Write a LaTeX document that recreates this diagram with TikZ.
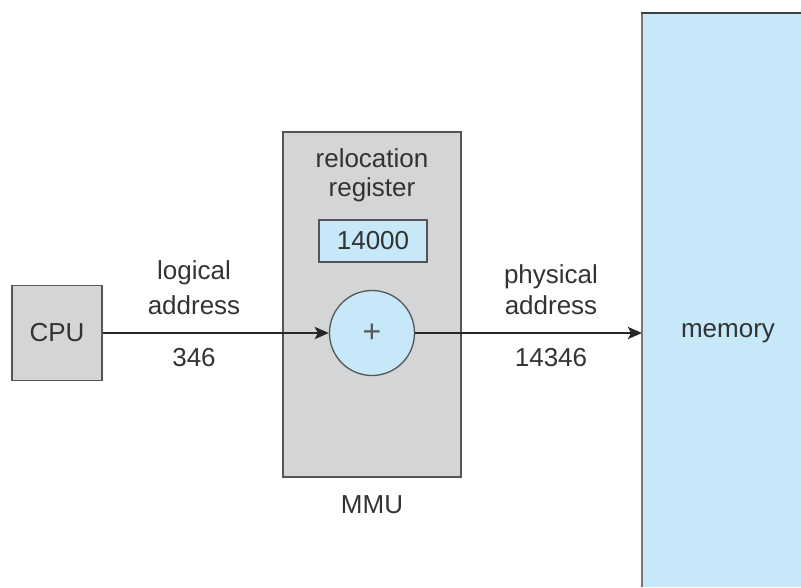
\documentclass[tikz,border=0pt]{standalone}
\usepackage{fontspec}
\setmainfont{Liberation Sans}
\usetikzlibrary{arrows.meta}
\definecolor{boxgray}{HTML}{D4D5D7}
\definecolor{boxblue}{HTML}{C6E8F8}
\definecolor{edge}{HTML}{555555}
\definecolor{txt}{HTML}{333333}
\tikzset{
  lbl/.style={text=txt, font=\fontsize{26}{32}\selectfont, inner sep=0pt, align=center},
  graybox/.style={draw=edge, line width=1.3pt, fill=boxgray},
  bluebox/.style={draw=edge, line width=1.3pt, fill=boxblue},
  flow/.style={draw=black!85, line width=2.6pt, -{Stealth[length=14pt,width=12pt,inset=3pt]}},
}
\begin{document}
\begin{tikzpicture}[x=1pt,y=-1pt]
\useasboundingbox (0,0) rectangle (801,587);
% memory
\fill[boxblue] (642,13) rectangle (801,587);
\draw[edge!80, line width=2pt] (642,587) -- (642,13);
\draw[black!75, line width=2pt] (641,13) -- (801,13);
\node[lbl] (memlbl) at (728,333) {memory};
\coordinate (memin) at (642,333);
% CPU
\node[graybox, minimum width=90pt, minimum height=95pt, inner sep=0pt] (cpu) at (57,333) {};
\node[lbl] (cpulbl) at (cpu.center) {CPU};
% MMU
\node[graybox, minimum width=178pt, minimum height=345pt, inner sep=0pt] (mmu) at (372,304.5) {};
\node[lbl] (rl1) at (372,158) {relocation};
\node[lbl] (rl2) at (372,190) {register};
\node[bluebox, minimum width=108pt, minimum height=42pt, inner sep=0pt] (reg) at (373,241) {};
\node[lbl] (reglbl) at (reg.center) {14000};
\node[bluebox, circle, minimum size=85pt, inner sep=0pt] (adder) at (372,333) {};
\node[text=black!65, font=\fontsize{32}{32}\selectfont, inner sep=0pt] (plus) at (372,333) {+};
\node[lbl] (mmulbl) at (372,505) {MMU};
% arrows
\draw[flow] (cpu.east) -- (adder.west);
\draw[flow] (adder.east) -- (memin);
% labels
\node[lbl] (la1) at (194,273) {logical};
\node[lbl] (la2) at (194,305) {address};
\node[lbl] (la3) at (194,358) {346};
\node[lbl] (pa1) at (551,277) {physical};
\node[lbl] (pa2) at (551,305) {address};
\node[lbl] (pa3) at (551,358) {14346};
\end{tikzpicture}
\end{document}
